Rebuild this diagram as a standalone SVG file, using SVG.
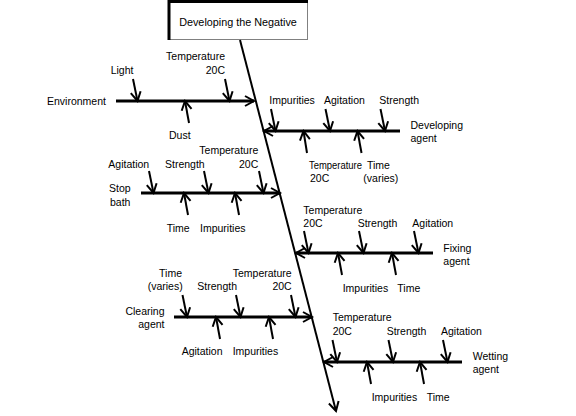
<svg xmlns="http://www.w3.org/2000/svg" width="576" height="416" viewBox="0 0 576 416">
<style>
text{font-family:"Liberation Sans",Arial,sans-serif;font-size:10.5px;fill:#000}
.e{text-anchor:end}
.title{font-size:10.8px;text-anchor:middle}
.spine{stroke:#000;stroke-width:2;fill:none}
.bone{stroke:#000;stroke-width:3;fill:none}
.cause{stroke:#000;stroke-width:2;fill:none}
</style>
<defs>
<marker id="ah" markerUnits="userSpaceOnUse" markerWidth="16" markerHeight="16" viewBox="-12 -8 16 16" refX="0" refY="0" orient="auto">
<path d="M-9,-5 L0,0 L-9,5" fill="none" stroke="#000" stroke-width="2"/>
</marker>
</defs>
<rect width="576" height="416" fill="#fff"/>
<g id="title">
<rect x="169" y="1.5" width="138.5" height="38" fill="#fff"/>
<path d="M307.5,1.5 V39.5 H169" fill="none" stroke="#000" stroke-width="1" stroke-dasharray="1,1"/>
<path d="M169,40 V1.5 H308" fill="none" stroke="#000" stroke-width="3"/>
<text class="title" x="238" y="26">Developing the Negative</text>
</g>
<g id="connectors">
<line class="spine" x1="240" y1="40" x2="336" y2="411" marker-end="url(#ah)"/>
<line class="bone" x1="116" y1="101" x2="254" y2="101" marker-end="url(#ah)"/>
<line class="bone" x1="400" y1="131" x2="264" y2="131" marker-end="url(#ah)"/>
<line class="bone" x1="141" y1="193" x2="280" y2="193" marker-end="url(#ah)"/>
<line class="bone" x1="433" y1="253" x2="296" y2="253" marker-end="url(#ah)"/>
<line class="bone" x1="174" y1="317" x2="312" y2="317" marker-end="url(#ah)"/>
<line class="bone" x1="462" y1="362" x2="324" y2="362" marker-end="url(#ah)"/>
<g marker-end="url(#ah)">
<line class="cause" x1="133" y1="79" x2="137.5" y2="101"/>
<line class="cause" x1="225" y1="79" x2="229.5" y2="101"/>
<line class="cause" x1="189" y1="123" x2="185" y2="101"/>
<line class="cause" x1="271" y1="109" x2="275.5" y2="131"/>
<line class="cause" x1="325.5" y1="109" x2="330" y2="131"/>
<line class="cause" x1="380.5" y1="109" x2="385" y2="131"/>
<line class="cause" x1="307" y1="153" x2="303.5" y2="131"/>
<line class="cause" x1="361.5" y1="153" x2="357.5" y2="131"/>
<line class="cause" x1="149" y1="171" x2="153.5" y2="193"/>
<line class="cause" x1="204" y1="171" x2="208.5" y2="193"/>
<line class="cause" x1="259" y1="171" x2="263.5" y2="193"/>
<line class="cause" x1="188" y1="215" x2="184" y2="193"/>
<line class="cause" x1="239" y1="215" x2="235" y2="193"/>
<line class="cause" x1="304" y1="231" x2="308.5" y2="253"/>
<line class="cause" x1="359" y1="231" x2="363.5" y2="253"/>
<line class="cause" x1="414" y1="231" x2="418.5" y2="253"/>
<line class="cause" x1="342" y1="275" x2="338" y2="253"/>
<line class="cause" x1="396" y1="275" x2="392" y2="253"/>
<line class="cause" x1="182.5" y1="295" x2="187" y2="317"/>
<line class="cause" x1="236" y1="295" x2="240.5" y2="317"/>
<line class="cause" x1="291" y1="295" x2="295.5" y2="317"/>
<line class="cause" x1="220" y1="339" x2="216" y2="317"/>
<line class="cause" x1="273" y1="339" x2="269" y2="317"/>
<line class="cause" x1="332.5" y1="340" x2="337" y2="362"/>
<line class="cause" x1="388.5" y1="340" x2="393" y2="362"/>
<line class="cause" x1="443" y1="340" x2="447.5" y2="362"/>
<line class="cause" x1="371" y1="384" x2="367" y2="362"/>
<line class="cause" x1="424" y1="384" x2="420" y2="362"/>
</g>
</g>
<g id="environment">
<text x="47" y="105">Environment</text>
<g id="env-light"><text x="110.7" y="74">Light</text></g>
<g id="env-temp"><text class="e" x="225" y="60">Temperature</text><text class="e" x="225" y="74">20C</text></g>
<g id="env-dust"><text x="169" y="139">Dust</text></g>
</g>
<g id="developing-agent">
<text x="410.5" y="129">Developing</text><text x="410.5" y="142">agent</text>
<g id="dev-impurities"><text x="269.3" y="104">Impurities</text></g>
<g id="dev-agitation"><text x="324" y="104">Agitation</text></g>
<g id="dev-strength"><text x="379.3" y="104">Strength</text></g>
<g id="dev-temp"><text x="309" y="169" textLength="53" lengthAdjust="spacingAndGlyphs">Temperature</text><text x="310" y="182">20C</text></g>
<g id="dev-time"><text x="367" y="169">Time</text><text x="363.3" y="182">(varies)</text></g>
</g>
<g id="stop-bath">
<text x="109" y="192">Stop</text><text x="110" y="205.7">bath</text>
<g id="stop-agitation"><text x="108.3" y="168">Agitation</text></g>
<g id="stop-strength"><text x="165" y="168">Strength</text></g>
<g id="stop-temp"><text class="e" x="258.3" y="154">Temperature</text><text class="e" x="258.3" y="168">20C</text></g>
<g id="stop-time"><text x="166.7" y="232">Time</text></g>
<g id="stop-impurities"><text x="200" y="232">Impurities</text></g>
</g>
<g id="fixing-agent">
<text x="443.3" y="252">Fixing</text><text x="443.3" y="265">agent</text>
<g id="fix-temp"><text x="303.3" y="214">Temperature</text><text x="303.3" y="227">20C</text></g>
<g id="fix-strength"><text x="357.7" y="227">Strength</text></g>
<g id="fix-agitation"><text x="412.3" y="227">Agitation</text></g>
<g id="fix-impurities"><text x="342.7" y="292">Impurities</text></g>
<g id="fix-time"><text x="397.3" y="292">Time</text></g>
</g>
<g id="clearing-agent">
<text class="e" x="164.5" y="315">Clearing</text><text class="e" x="164.5" y="328">agent</text>
<g id="clr-time"><text class="e" x="182" y="277">Time</text><text class="e" x="182.7" y="290">(varies)</text></g>
<g id="clr-strength"><text x="197.3" y="290">Strength</text></g>
<g id="clr-temp"><text class="e" x="291.7" y="277">Temperature</text><text class="e" x="291.7" y="290">20C</text></g>
<g id="clr-agitation"><text x="181.7" y="355">Agitation</text></g>
<g id="clr-impurities"><text x="232.7" y="355">Impurities</text></g>
</g>
<g id="wetting-agent">
<text x="472.7" y="360">Wetting</text><text x="472.7" y="373">agent</text>
<g id="wet-temp"><text x="332.7" y="321">Temperature</text><text x="332.7" y="335">20C</text></g>
<g id="wet-strength"><text x="386.7" y="335">Strength</text></g>
<g id="wet-agitation"><text x="441" y="335">Agitation</text></g>
<g id="wet-impurities"><text x="371.7" y="400.7">Impurities</text></g>
<g id="wet-time"><text x="426.7" y="400.7">Time</text></g>
</g>
</svg>
